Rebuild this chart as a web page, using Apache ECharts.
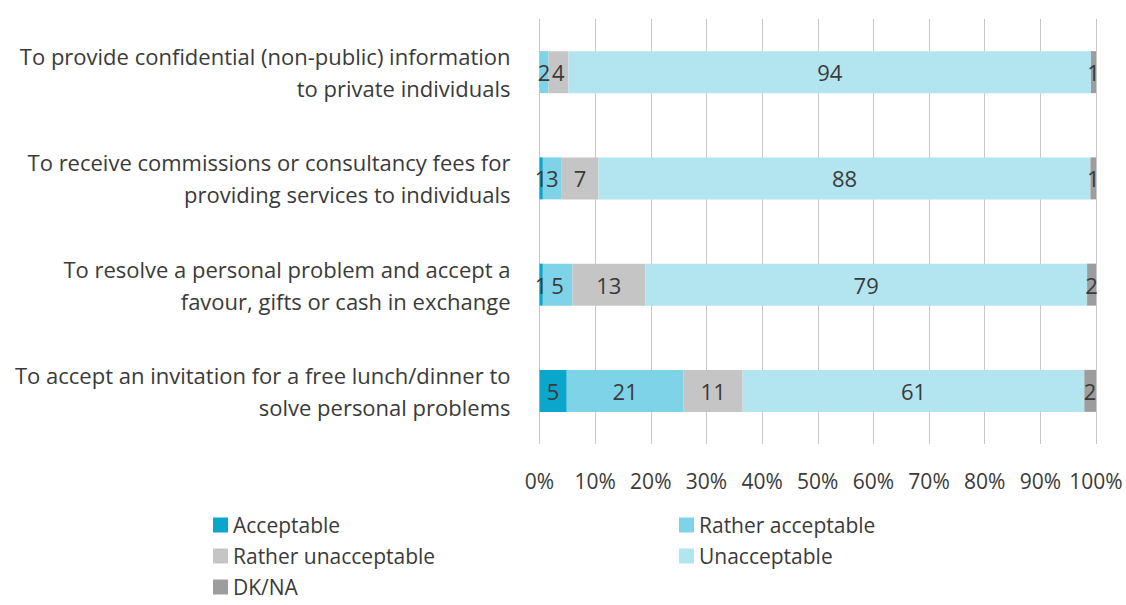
<!DOCTYPE html>
<html>
<head>
<meta charset="utf-8">
<script src="https://cdn.jsdelivr.net/npm/echarts@6/dist/echarts.min.js"></script>
<style>
  html, body { margin: 0; padding: 0; background: #fff; }
  #chart { width: 1126px; height: 605px; }
</style>
</head>
<body>
<div id="chart"></div>
<script>
var categories = [
  'To provide confidential (non-public) information\nto private individuals',
  'To receive commissions or consultancy fees for\nproviding services to individuals',
  'To resolve a personal problem and accept a\nfavour, gifts or cash in exchange',
  'To accept an invitation for a free lunch/dinner to\nsolve personal problems'
];
var tickLabels = ['0%', '10%', '20%', '30%', '40%', '50%', '60%', '70%', '80%', '90%', '100%'];

var acceptable = [0, 0.6, 0.6, 4.9];
var ratherAcceptable = [1.6, 3.4, 5.3, 21.0];
var ratherUnacceptable = [3.6, 6.6, 13.1, 10.6];
var unacceptable = [93.9, 88.4, 79.4, 61.4];
var dkna = [0.9, 1.0, 1.6, 2.1];

var seriesNames = ['Acceptable', 'Rather acceptable', 'Rather unacceptable', 'Unacceptable', 'DK/NA'];
var seriesData = [acceptable, ratherAcceptable, ratherUnacceptable, unacceptable, dkna];
var colors = ['#0aa6cc', '#7fd3e8', '#c5c5c6', '#b3e5f0', '#9d9d9d'];

var ink = '#3a3a3a';
var font = 'Open Sans';

var chart = echarts.init(document.getElementById('chart'), null, { renderer: 'svg' });

var series = seriesNames.map(function(name, i) {
  return {
    name: name,
    type: 'bar',
    stack: 'total',
    barWidth: 42,
    data: seriesData[i],
    itemStyle: { color: colors[i] },
    label: {
      show: true,
      position: 'inside',
      color: ink,
      fontFamily: font,
      fontSize: 22,
      formatter: function(p) {
        return p.value > 0 ? Math.round(p.value) : '';
      }
    }
  };
});

var legendBase = {
  orient: 'vertical',
  top: 509,
  height: 100,
  itemWidth: 15,
  itemHeight: 15,
  itemGap: 9,
  icon: 'rect',
  textStyle: { color: ink, fontSize: 21, fontFamily: font, lineHeight: 22 }
};

chart.setOption({
  animation: false,
  backgroundColor: '#fff',
  textStyle: { fontFamily: font },
  grid: { left: 539.5, right: 30, top: 19, height: 425 },
  legend: [
    Object.assign({}, legendBase, { data: ['Acceptable', 'Rather unacceptable', 'DK/NA'], left: 208 }),
    Object.assign({}, legendBase, { data: ['Rather acceptable', 'Unacceptable'], left: 674, top: 509 })
  ],
  xAxis: {
    type: 'value',
    min: 0,
    max: 100,
    interval: 10,
    axisLine: { show: false },
    axisTick: { show: false },
    splitLine: { lineStyle: { color: '#c8c8c8', width: 1 } },
    axisLabel: {
      color: ink,
      fontSize: 21,
      fontFamily: font,
      margin: 26,
      formatter: function(v) { return tickLabels[Math.round(v / 10)]; }
    }
  },
  yAxis: {
    type: 'category',
    inverse: true,
    data: categories,
    axisLine: { show: false },
    axisTick: { show: false },
    axisLabel: {
      color: ink,
      fontSize: 22,
      fontFamily: font,
      margin: 29,
      align: 'right',
      lineHeight: 32
    }
  },
  series: series
});

window.addEventListener('resize', function() { chart.resize(); });
</script>
</body>
</html>
